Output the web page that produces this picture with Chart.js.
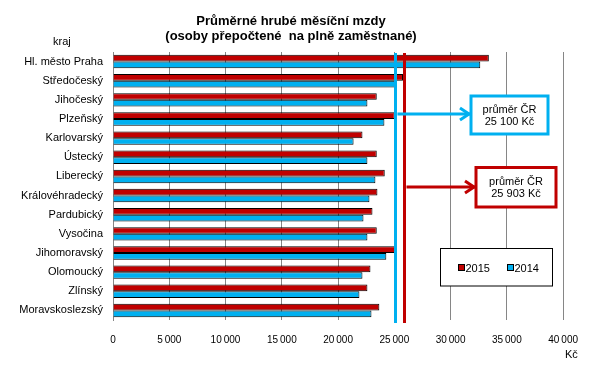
<!DOCTYPE html>
<html><head><meta charset="utf-8">
<script src="https://cdn.jsdelivr.net/npm/chart.js@4/dist/chart.umd.min.js"></script>
<style>html,body{margin:0;padding:0;background:#fff}canvas{display:block}</style>
</head><body>
<canvas id="c" width="592" height="368"></canvas>
<script>
const categories = ['Hl. město Praha','Středočeský','Jihočeský','Plzeňský','Karlovarský','Ústecký','Liberecký','Královéhradecký','Pardubický','Vysočina','Jihomoravský','Olomoucký','Zlínský','Moravskoslezský'];
const series2015 = [33400, 25770, 23440, 25030, 22170, 23440, 24150, 23500, 23060, 23440, 25120, 22880, 22610, 23670];
const series2014 = [32640, 25150, 22610, 24120, 21380, 22610, 23320, 22790, 22260, 22610, 24290, 22170, 21900, 22970];
const seriesNames = ['2015', '2014'];
const nationalAverages = [25903, 25100];
const averageTexts = ['25 903 Kč', '25 100 Kč'];
const averageCaption = 'průměr ČR';
const titleLines = ['Průměrné hrubé měsíční mzdy', '(osoby přepočtené  na plně zaměstnané)'];
const yAxisCaption = 'kraj';
const xAxisCaption = 'Kč';
const xTickMin = 0, xTickMax = 40000, xTickStep = 5000;

const RED = '#C00000', BLUE = '#00B0F0', GRID = '#868686';
const FONT = '"Liberation Sans", Arial, sans-serif';

function fmt(v){ return String(v).replace(/\B(?=(\d{3})+(?!\d))/g, '\u2009'); }

const overlay = {
  id: 'overlay',
  afterDatasetsDraw(chart){
    const {ctx, chartArea: a, scales: {x}} = chart;
    ctx.save();
    // average lines (2014 blue, 2015 red)
    const cols = [RED, BLUE];
    [1, 0].forEach(i => {
      const px = Math.round(x.getPixelForValue(nationalAverages[i])) + 0.5;
      ctx.strokeStyle = cols[i]; ctx.lineWidth = 3;
      ctx.beginPath(); ctx.moveTo(px, a.top + 1); ctx.lineTo(px, a.bottom + 3); ctx.stroke();
    });
    // arrows + boxes
    const boxes = [
      {i: 0, ay: 187, bx: 476, by: 167.5, bw: 80, bh: 39.5},
      {i: 1, ay: 114, bx: 471, by: 96, bw: 77, bh: 38}
    ];
    boxes.forEach(b => {
      const c = cols[b.i];
      const sx = x.getPixelForValue(nationalAverages[b.i]) + 2;
      ctx.strokeStyle = c; ctx.lineWidth = 3; ctx.lineCap = 'butt';
      ctx.beginPath(); ctx.moveTo(sx, b.ay); ctx.lineTo(b.bx - 1, b.ay); ctx.stroke();
      ctx.beginPath(); ctx.moveTo(b.bx - 11, b.ay - 6); ctx.lineTo(b.bx - 2, b.ay); ctx.lineTo(b.bx - 11, b.ay + 6); ctx.stroke();
      ctx.fillStyle = '#fff';
      ctx.fillRect(b.bx, b.by, b.bw, b.bh);
      ctx.strokeRect(b.bx, b.by, b.bw, b.bh);
      ctx.fillStyle = '#000'; ctx.font = '11px ' + FONT; ctx.textAlign = 'center'; ctx.textBaseline = 'alphabetic';
      const cx = b.bx + b.bw / 2;
      ctx.fillText(averageCaption, cx, b.by + 17);
      ctx.fillText(averageTexts[b.i], cx, b.by + 29);
    });
    // legend
    ctx.lineWidth = 1; ctx.strokeStyle = '#000'; ctx.fillStyle = '#fff';
    ctx.fillRect(440.5, 248.5, 112, 37.5); ctx.strokeRect(440.5, 248.5, 112, 37.5);
    const items = [{x: 458.5, c: RED}, {x: 507.5, c: BLUE}];
    items.forEach((it, k) => {
      ctx.fillStyle = it.c; ctx.fillRect(it.x, 264.5, 6, 6); ctx.strokeRect(it.x, 264.5, 6, 6);
      ctx.fillStyle = '#000'; ctx.font = '11px ' + FONT; ctx.textAlign = 'left'; ctx.textBaseline = 'alphabetic';
      ctx.fillText(chart.data.datasets[k].label, it.x + 7, 271.5);
    });
    ctx.restore();
  },
  afterDraw(chart){
    const ctx = chart.ctx;
    ctx.save();
    ctx.fillStyle = '#000'; ctx.textBaseline = 'alphabetic';
    ctx.font = 'bold 13px ' + FONT; ctx.textAlign = 'center';
    ctx.fillText(titleLines[0], 291, 25);
    ctx.fillText(titleLines[1], 291, 40);
    ctx.font = '11px ' + FONT; ctx.textAlign = 'left';
    ctx.fillText(yAxisCaption, 53, 45);
    ctx.fillText(xAxisCaption, 565, 358);
    ctx.restore();
  }
};

new Chart(document.getElementById('c'), {
  type: 'bar',
  data: {
    labels: categories,
    datasets: [
      {label: seriesNames[0], data: series2015, backgroundColor: RED, borderColor: '#000', borderWidth: 1},
      {label: seriesNames[1], data: series2014, backgroundColor: BLUE, borderColor: '#000', borderWidth: 1}
    ]
  },
  options: {
    indexAxis: 'y',
    responsive: false,
    animation: false,
    devicePixelRatio: 1,
    categoryPercentage: 0.7,
    barPercentage: 1,
    layout: {padding: {top: 52, left: 0, right: 27, bottom: 0}},
    plugins: {legend: {display: false}, title: {display: false}, tooltip: {enabled: false}},
    scales: {
      x: {
        min: xTickMin, max: xTickMax,
        ticks: {stepSize: xTickStep, color: '#000', font: {family: FONT, size: 10}, padding: 14, callback: v => fmt(v), maxRotation: 0},
        grid: {display: true, color: GRID, lineWidth: 1, drawTicks: false},
        border: {display: false},
        afterFit: s => { s.height = 48; }
      },
      y: {
        ticks: {color: '#000', font: {family: FONT, size: 11}, padding: 10, autoSkip: false},
        grid: {display: false, drawTicks: false},
        border: {display: true, color: GRID, width: 1},
        afterFit: s => { s.width = 113; }
      }
    }
  },
  plugins: [overlay]
});
</script>
</body></html>
